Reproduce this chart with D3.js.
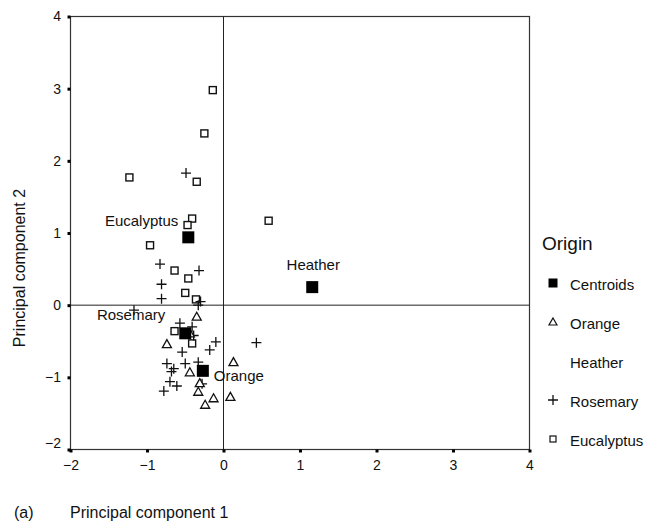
<!DOCTYPE html>
<html><head><meta charset="utf-8">
<script src="https://cdn.jsdelivr.net/npm/d3@7"></script>
<style>body{margin:0;background:#fff}svg{display:block}text{font-family:"Liberation Sans",Arial,sans-serif;fill:#111}</style>
</head><body><svg id="c" width="647" height="524"></svg>
<script>
const xTicks = [-2,-1,0,1,2,3,4];
const yTicks = [-2,-1,0,1,2,3,4];
const eucalyptus = [[-0.14,2.98],[-0.25,2.38],[-1.23,1.77],[-0.35,1.71],[-0.41,1.20],[-0.47,1.11],[-0.96,0.83],[-0.64,0.48],[-0.46,0.37],[-0.50,0.17],[-0.36,0.08],[0.59,1.17],[-0.64,-0.36],[-0.41,-0.53]];
const rosemary = [[-0.49,1.83],[-0.83,0.57],[-0.32,0.48],[-0.81,0.29],[-0.81,0.09],[-0.30,0.05],[-0.33,0.00],[-1.17,-0.07],[-0.57,-0.25],[-0.41,-0.30],[-0.39,-0.42],[-0.10,-0.51],[0.43,-0.52],[-0.54,-0.65],[-0.18,-0.62],[-0.74,-0.81],[-0.65,-0.88],[-0.68,-0.92],[-0.50,-0.81],[-0.33,-0.79],[-0.70,-1.06],[-0.61,-1.12],[-0.78,-1.19],[-0.28,-1.09]];
const orange = [[-0.35,-0.16],[-0.44,-0.39],[-0.74,-0.54],[0.13,-0.79],[-0.44,-0.93],[-0.31,-1.08],[-0.33,-1.20],[-0.13,-1.29],[-0.24,-1.38],[0.09,-1.27]];
const centroidNames = ["Eucalyptus","Heather","Rosemary","Orange"];
const centroidX = [-0.46,1.16,-0.50,-0.27];
const centroidY = [0.94,0.25,-0.39,-0.91];
const legendLabels = ["Centroids","Orange","Heather","Rosemary","Eucalyptus"];

const svg = d3.select("#c");
const x = d3.scaleLinear().domain([-2,4]).range([70.5,529.5]);
const y = d3.scaleLinear().domain([-2,4]).range([449.5,16.5]);

// frame
svg.append("rect").attr("x",x(-2)).attr("y",y(4)).attr("width",x(4)-x(-2)).attr("height",y(-2)-y(4))
  .attr("fill","none").attr("stroke","#333").attr("stroke-width",1.2);
// zero lines
svg.append("line").attr("x1",x(0)).attr("x2",x(0)).attr("y1",y(4)).attr("y2",y(-2)).attr("stroke","#222");
svg.append("line").attr("x1",x(-2)).attr("x2",x(4)).attr("y1",y(0)).attr("y2",y(0)).attr("stroke","#222");

// axes
const ax = svg.append("g").attr("transform",`translate(0,${y(-2)})`)
  .call(d3.axisBottom(x).tickValues(xTicks).tickFormat(d3.format("d")).tickSize(3).tickPadding(8));
const ay = svg.append("g").attr("transform",`translate(${x(-2)},0)`)
  .call(d3.axisLeft(y).tickValues(yTicks).tickFormat(d3.format("d")).tickSize(3).tickPadding(6.5));
[ax,ay].forEach(g=>{
  g.select(".domain").remove();
  g.selectAll(".tick line").attr("stroke","#000").attr("stroke-width",3);
  g.selectAll(".tick text").attr("font-size",14).attr("font-family","Liberation Sans, Arial, sans-serif").attr("fill","#111");
});
ay.selectAll(".tick").filter(d=>d===-2).select("text").attr("dy","-0.15em");

// eucalyptus squares
svg.append("g").selectAll("rect").data(eucalyptus).join("rect")
  .attr("x",d=>x(d[0])-3.5).attr("y",d=>y(d[1])-3.5).attr("width",7).attr("height",7)
  .attr("fill","#fff").attr("stroke","#111").attr("stroke-width",1.4);
// rosemary plus
svg.append("g").selectAll("path").data(rosemary).join("path")
  .attr("d",d=>`M${x(d[0])-5},${y(d[1])}h10M${x(d[0])},${y(d[1])-5}v10`)
  .attr("stroke","#111").attr("stroke-width",1.3).attr("fill","none");
// orange triangles
svg.append("g").selectAll("path").data(orange).join("path")
  .attr("d",d=>`M${x(d[0])},${y(d[1])-4.5}L${x(d[0])+4.5},${y(d[1])+3.5}L${x(d[0])-4.5},${y(d[1])+3.5}Z`)
  .attr("stroke","#111").attr("stroke-width",1.3).attr("fill","#fff");
// centroids
svg.append("g").selectAll("rect").data(centroidNames).join("rect")
  .attr("x",(d,i)=>x(centroidX[i])-6).attr("y",(d,i)=>y(centroidY[i])-6).attr("width",12).attr("height",12)
  .attr("fill","#000");
// centroid labels
const labOff = {Eucalyptus:[-10,-11,"end"],Heather:[1,-17.5,"middle"],Rosemary:[-20,-13,"end"],Orange:[11,10,"start"]};
svg.append("g").selectAll("text").data(centroidNames).join("text")
  .attr("x",(d,i)=>x(centroidX[i])+labOff[d][0]).attr("y",(d,i)=>y(centroidY[i])+labOff[d][1])
  .attr("text-anchor",d=>labOff[d][2]).attr("font-size",15).text(d=>d);

// axis titles
svg.append("text").attr("transform","translate(25,268) rotate(-90)").attr("text-anchor","middle")
  .attr("font-size",16).text("Principal component 2");
svg.append("text").attr("x",14).attr("y",518).attr("font-size",16).text("(a)");
svg.append("text").attr("x",70).attr("y",518).attr("font-size",16).text("Principal component 1");

// legend
const lg = svg.append("g");
lg.append("text").attr("x",542).attr("y",250).attr("font-size",19).text("Origin");
const ly = [290,329,368,407,446];
legendLabels.forEach((l,i)=>{
  lg.append("text").attr("x",570).attr("y",ly[i]).attr("font-size",15).text(l);
  const cx=553, cy=ly[i]-7;
  if(l==="Centroids") lg.append("rect").attr("x",cx-4.5).attr("y",cy-4.5).attr("width",9).attr("height",9).attr("fill","#000");
  if(l==="Orange") lg.append("path").attr("d",`M${cx},${cy-4}L${cx+4},${cy+3}L${cx-4},${cy+3}Z`).attr("fill","#fff").attr("stroke","#111").attr("stroke-width",1.2);
  if(l==="Rosemary") lg.append("path").attr("d",`M${cx-5},${cy}h10M${cx},${cy-5}v10`).attr("stroke","#111").attr("stroke-width",1.3);
  if(l==="Eucalyptus") lg.append("rect").attr("x",cx-3).attr("y",cy-3).attr("width",6).attr("height",6).attr("fill","#fff").attr("stroke","#111").attr("stroke-width",1.2);
});
</script></body></html>
